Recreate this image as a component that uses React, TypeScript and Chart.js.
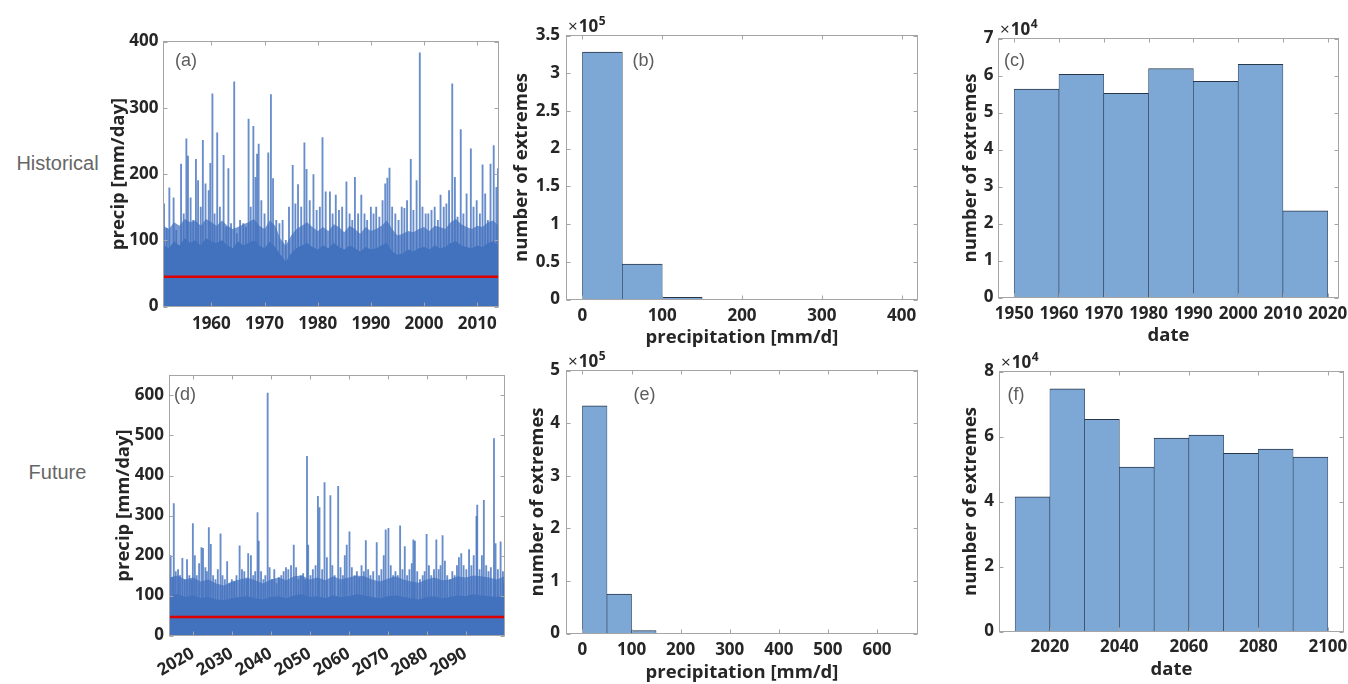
import React, { useEffect, useRef } from "react";
import { Chart, registerables } from "chart.js";

Chart.register(...registerables);

// ------------------------------------------------------------------
// DATA
// ------------------------------------------------------------------
const histThreshold = 45;
const futThreshold = 46;

// (a) historical daily precipitation: dense band (yearly) + visible spikes
const histBandYears = [
  1951, 1952, 1953, 1954, 1955, 1956, 1957, 1958, 1959, 1960,
  1961, 1962, 1963, 1964, 1965, 1966, 1967, 1968, 1969, 1970,
  1971, 1972, 1973, 1974, 1975, 1976, 1977, 1978, 1979, 1980,
  1981, 1982, 1983, 1984, 1985, 1986, 1987, 1988, 1989, 1990,
  1991, 1992, 1993, 1994, 1995, 1996, 1997, 1998, 1999, 2000,
  2001, 2002, 2003, 2004, 2005, 2006, 2007, 2008, 2009, 2010,
  2011, 2012, 2013, 2014,
];
const histBandCore = [
  93, 88, 98, 92, 103, 96, 100, 92, 103, 98,
  96, 100, 92, 88, 98, 92, 96, 100, 92, 88,
  98, 90, 78, 68, 80, 88, 92, 96, 90, 86,
  92, 88, 96, 90, 86, 92, 88, 83, 90, 86,
  88, 92, 96, 83, 78, 80, 86, 83, 88, 90,
  86, 92, 88, 90, 96, 98, 92, 90, 88, 92,
  90, 96, 98, 92,
];
const histBandOuter = [
  122, 117, 127, 122, 132, 127, 130, 122, 132, 127,
  122, 130, 122, 117, 120, 124, 127, 132, 122, 117,
  130, 122, 102, 92, 107, 117, 122, 127, 120, 114,
  120, 114, 124, 120, 112, 122, 117, 110, 120, 114,
  117, 122, 130, 117, 107, 110, 114, 112, 117, 120,
  114, 122, 120, 117, 127, 132, 124, 120, 117, 122,
  120, 127, 130, 122,
];
const histSpikeYears = [
  1951.1, 1951.6, 1952.1, 1952.9, 1953.4, 1954.3, 1954.8, 1955.3, 1955.6, 1956.1,
  1956.6, 1957.1, 1957.5, 1958.0, 1958.4, 1958.9, 1959.5, 1959.8, 1960.2, 1960.6,
  1961.1, 1961.6, 1962.3, 1962.8, 1963.2, 1963.7, 1964.3, 1964.8, 1965.4, 1966.0,
  1966.5, 1967.0, 1967.4, 1967.9, 1968.3, 1968.6, 1968.9, 1969.4, 1970.0, 1970.7,
  1971.2, 1971.6, 1972.2, 1972.8, 1973.4, 1974.0, 1974.6, 1975.3, 1975.8, 1976.3,
  1976.9, 1977.5, 1977.9, 1978.5, 1979.2, 1979.8, 1980.4, 1980.9, 1981.5, 1982.3,
  1982.8, 1983.4, 1984.0, 1984.6, 1985.4, 1986.0, 1986.5, 1987.0, 1987.6, 1988.2,
  1988.8, 1989.3, 1990.0, 1990.5, 1991.0, 1991.6, 1992.2, 1992.7, 1993.1, 1993.5,
  1994.0, 1994.6, 1995.2, 1995.8, 1996.3, 1996.8, 1997.5, 1998.0, 1998.6, 1999.2,
  1999.7, 2000.3, 2000.8, 2001.4, 2002.0, 2002.6, 2003.1, 2003.7, 2004.2, 2004.7,
  2005.3, 2005.8, 2006.3, 2006.9, 2007.4, 2008.0, 2008.8, 2009.3, 2009.9, 2010.5,
  2011.0, 2011.5, 2012.0, 2012.5, 2013.1, 2013.6, 2013.9,
];
const histSpikeValues = [
  155, 118, 179, 164, 115, 215, 140, 253, 227, 164,
  130, 222, 190, 150, 251, 185, 175, 216, 321, 140,
  262, 150, 228, 120, 208, 125, 339, 110, 130, 125,
  120, 283, 150, 272, 195, 230, 245, 160, 140, 232,
  320, 193, 130, 125, 130, 100, 150, 213, 155, 184,
  150, 247, 207, 160, 199, 145, 150, 255, 173, 173,
  140, 168, 145, 150, 188, 140, 130, 195, 140, 168,
  140, 130, 150, 140, 150, 135, 160, 185, 194, 209,
  150, 140, 130, 150, 148, 160, 222, 145, 190, 383,
  150, 140, 140, 145, 150, 130, 168, 150, 155, 175,
  336, 195, 135, 267, 140, 170, 238, 150, 160, 140,
  214, 170, 130, 215, 243, 180, 208,
];

// (d) future daily precipitation
const futBandYears = [
  2014, 2016, 2018, 2020, 2022, 2024, 2026, 2028, 2030, 2032,
  2034, 2036, 2038, 2040, 2042, 2044, 2046, 2048, 2050, 2052,
  2054, 2056, 2058, 2060, 2062, 2064, 2066, 2068, 2070, 2072,
  2074, 2076, 2078, 2080, 2082, 2084, 2086, 2088, 2090, 2092,
  2094, 2096, 2098, 2100,
];
const futBandCore = [
  98, 103, 96, 100, 93, 96, 90, 88, 93, 96,
  98, 93, 90, 96, 98, 93, 100, 103, 96, 98,
  93, 100, 96, 98, 103, 100, 96, 93, 98, 100,
  96, 93, 90, 96, 98, 93, 96, 100, 98, 103,
  100, 98, 96, 100,
];
const futBandOuter = [
  145, 150, 140, 145, 135, 140, 130, 125, 135, 140,
  145, 138, 130, 140, 145, 138, 148, 150, 140, 145,
  138, 148, 140, 145, 150, 148, 140, 135, 142, 148,
  140, 135, 132, 140, 145, 138, 140, 148, 145, 150,
  148, 145, 140, 148,
];
const futSpikeYears = [
  2014.3, 2014.8, 2015.1, 2015.6, 2016.2, 2016.7, 2017.3, 2017.9, 2018.5, 2019.1,
  2019.6, 2020.0, 2020.5, 2021.0, 2021.6, 2022.2, 2022.6, 2023.2, 2023.6, 2024.1,
  2024.6, 2025.2, 2025.8, 2026.4, 2027.1, 2027.6, 2028.2, 2028.8, 2029.4, 2030.0,
  2030.6, 2031.2, 2032.0, 2032.6, 2033.2, 2033.8, 2034.2, 2034.9, 2035.5, 2036.0,
  2036.6, 2036.9, 2037.5, 2038.1, 2038.6, 2039.2, 2039.7, 2040.3, 2040.9, 2041.5,
  2042.1, 2042.7, 2043.3, 2043.9, 2044.5, 2045.2, 2045.9, 2046.5, 2047.1, 2047.7,
  2048.3, 2048.8, 2049.3, 2049.6, 2050.2, 2050.8, 2051.5, 2052.1, 2052.5, 2053.2,
  2053.8, 2054.4, 2055.3, 2055.8, 2056.4, 2057.3, 2057.9, 2058.5, 2059.0, 2059.5,
  2060.2, 2060.8, 2061.5, 2062.1, 2062.7, 2063.3, 2063.9, 2064.4, 2065.0, 2065.6,
  2066.3, 2067.2, 2067.8, 2068.4, 2069.0, 2069.5, 2070.2, 2070.8, 2071.4, 2072.0,
  2072.6, 2073.2, 2073.8, 2074.4, 2075.0, 2075.6, 2076.2, 2076.6, 2077.0, 2077.6,
  2078.3, 2079.0, 2079.5, 2080.0, 2080.6, 2081.2, 2081.9, 2082.5, 2083.1, 2083.6,
  2084.1, 2084.7, 2085.3, 2086.0, 2086.6, 2087.2, 2087.8, 2088.3, 2088.9, 2089.5,
  2090.2, 2090.9, 2091.5, 2092.1, 2092.8, 2093.0, 2093.6, 2094.2, 2094.7, 2095.3,
  2095.9, 2096.5, 2097.3, 2097.7, 2098.3, 2099.0, 2099.6, 2099.9,
];
const futSpikeValues = [
  200, 145, 330, 160, 165, 150, 193, 140, 190, 150,
  140, 280, 200, 150, 180, 220, 218, 170, 160, 270,
  228, 150, 140, 165, 254, 150, 140, 185, 130, 140,
  135, 150, 224, 165, 160, 140, 205, 200, 150, 160,
  307, 236, 160, 140, 150, 606, 170, 140, 165, 130,
  145, 150, 160, 170, 165, 175, 226, 170, 140, 150,
  155, 140, 448, 226, 150, 165, 175, 348, 320, 165,
  382, 195, 350, 175, 150, 373, 170, 150, 200, 226,
  259, 170, 150, 160, 145, 175, 160, 237, 165, 150,
  160, 232, 150, 165, 200, 264, 268, 175, 150, 160,
  150, 274, 165, 222, 150, 165, 180, 239, 236, 160,
  140, 150, 160, 253, 175, 150, 165, 239, 165, 175,
  250, 186, 150, 140, 160, 150, 175, 195, 205, 175,
  165, 215, 175, 200, 298, 326, 165, 200, 338, 175,
  160, 170, 492, 230, 165, 234, 160, 130,
];

// (b) histogram of historical extremes by precipitation
const histPrecipBinCenters = [25, 75, 125, 175, 225, 275, 325, 375];
const histPrecipCounts = [328000, 47000, 2900, 0, 0, 0, 0, 350];
// (e) histogram of future extremes by precipitation
const futPrecipBinCenters = [25, 75, 125, 175, 225, 275, 325, 375, 425, 475, 525, 575, 625];
const futPrecipCounts = [433000, 75000, 5700, 300, 0, 0, 0, 0, 0, 150, 150, 150, 150];
// (c) extremes per decade, historical
const histDecadeCenters = [1955, 1965, 1975, 1985, 1995, 2005, 2015];
const histDecadeCounts = [56300, 60300, 55200, 61900, 58400, 63000, 23400];
// (f) extremes per decade, future
const futDecadeCenters = [2015, 2025, 2035, 2045, 2055, 2065, 2075, 2085, 2095];
const futDecadeCounts = [41400, 74700, 65300, 50600, 59500, 60400, 54800, 56100, 53700];

// tick values
const histYearTicks = [1960, 1970, 1980, 1990, 2000, 2010];
const histPrecipTicks = [0, 100, 200, 300, 400];
const futYearTicks = [2020, 2030, 2040, 2050, 2060, 2070, 2080, 2090];
const futPrecipTicks = [0, 100, 200, 300, 400, 500, 600];
const binTicksB = [0, 100, 200, 300, 400];
const countTicksB = [0, 50000, 100000, 150000, 200000, 250000, 300000, 350000];
const decadeTicksC = [1950, 1960, 1970, 1980, 1990, 2000, 2010, 2020];
const countTicksC = [0, 10000, 20000, 30000, 40000, 50000, 60000, 70000];
const binTicksE = [0, 100, 200, 300, 400, 500, 600];
const countTicksE = [0, 100000, 200000, 300000, 400000, 500000];
const decadeTicksF = [2020, 2040, 2060, 2080, 2100];
const countTicksF = [0, 20000, 40000, 60000, 80000];

// ------------------------------------------------------------------
// STYLE
// ------------------------------------------------------------------
const FONT_FAMILY = '"Open Sans", "Noto Sans", "DejaVu Sans", sans-serif';
const LABEL_FAMILY = '"Liberation Sans", Arial, sans-serif';
const TICK_SIZE = 17;
const TITLE_SIZE = 18.5;
const TEXT_DARK = "#262626";
const AXIS_GRAY = "#a5a5a5";
const PANEL_LABEL_GRAY = "#5c5c5c";
const SERIES_BLUE = "rgb(66,113,190)";
const SPIKE_BLUE = "rgba(66,113,190,0.8)";
const OUTER_BLUE = "rgba(95,135,202,0.85)";
const THRESH_RED = "rgb(222,0,0)";
const HIST_FILL = "rgb(125,167,213)";
const HIST_EDGE = "rgb(40,54,74)";

const PAD = { l: 80, t: 32, r: 24, b: 60 };

function seriesDatasets(
  bandYears: number[], core: number[], outer: number[],
  spikeYears: number[], spikeVals: number[],
  threshold: number, xMin: number, xMax: number
) {
  return [
    {
      type: "line", data: bandYears.map((x, i) => ({ x, y: outer[i] })),
      fill: "origin", backgroundColor: OUTER_BLUE, borderWidth: 0,
      pointRadius: 0, tension: 0, order: 4,
    },
    {
      type: "bar", data: spikeYears.map((x, i) => ({ x, y: spikeVals[i] })),
      backgroundColor: SPIKE_BLUE, borderWidth: 0, barThickness: 1.2, order: 3,
    },
    {
      type: "line", data: bandYears.map((x, i) => ({ x, y: core[i] })),
      fill: "origin", backgroundColor: SERIES_BLUE, borderWidth: 0,
      pointRadius: 0, tension: 0, order: 2,
    },
    {
      type: "line", data: [{ x: xMin, y: threshold }, { x: xMax, y: threshold }],
      borderColor: THRESH_RED, borderWidth: 2.5, pointRadius: 0, fill: false, order: 0,
    },
  ];
}

function histDatasets(centers: number[], counts: number[]) {
  return [
    {
      type: "bar", data: centers.map((x, i) => ({ x, y: counts[i] })),
      backgroundColor: HIST_FILL, borderColor: HIST_EDGE,
      borderWidth: { top: 1, left: 0.6, right: 0.6, bottom: 0 },
      categoryPercentage: 1, barPercentage: 1, order: 1,
    },
  ];
}

type Spec = {
  id: string;
  area: [number, number, number, number];
  xMin: number; xMax: number; yMin: number; yMax: number;
  xTicks: number[]; yTicks: number[];
  yScaleDiv?: number;
  xRotation?: number;
  xTickPad: number; yTickPad: number;
  xTitle?: string; xTitleRel?: number;
  yTitle: string; yTitleX: number;
  label: string; labelDx: number; labelDy: number;
  exponent?: number;
  datasets: any[];
};

const specs: Spec[] = [
  {
    id: "a", area: [163.5, 41.5, 498.5, 306.5],
    xMin: 1951, xMax: 2014, yMin: 0, yMax: 400,
    xTicks: histYearTicks, yTicks: histPrecipTicks,
    xTickPad: 7, yTickPad: 5,
    yTitle: "precip [mm/day]", yTitleX: 119,
    label: "(a)", labelDx: 11.5, labelDy: 20,
    datasets: seriesDatasets(histBandYears, histBandCore, histBandOuter,
      histSpikeYears, histSpikeValues, histThreshold, 1951, 2014),
  },
  {
    id: "b", area: [566.5, 35.5, 917.5, 299.5],
    xMin: -20, xMax: 420, yMin: 0, yMax: 350000,
    xTicks: binTicksB, yTicks: countTicksB, yScaleDiv: 1e5,
    xTickPad: 6, yTickPad: 6.5,
    xTitle: "precipitation [mm/d]", xTitleRel: 38.5,
    yTitle: "number of extremes", yTitleX: 522,
    label: "(b)", labelDx: 66, labelDy: 26, exponent: 5,
    datasets: histDatasets(histPrecipBinCenters, histPrecipCounts),
  },
  {
    id: "c", area: [998.5, 38.5, 1338.5, 297.5],
    xMin: 1946.5, xMax: 2022.4, yMin: 0, yMax: 70000,
    xTicks: decadeTicksC, yTicks: countTicksC, yScaleDiv: 1e4,
    xTickPad: 6, yTickPad: 5,
    xTitle: "date", xTitleRel: 38,
    yTitle: "number of extremes", yTitleX: 971,
    label: "(c)", labelDx: 5.5, labelDy: 23, exponent: 4,
    datasets: histDatasets(histDecadeCenters, histDecadeCounts),
  },
  {
    id: "d", area: [169.5, 375.5, 504.5, 635.5],
    xMin: 2014, xMax: 2100, yMin: 0, yMax: 650,
    xTicks: futYearTicks, yTicks: futPrecipTicks, xRotation: 30,
    xTickPad: 8, yTickPad: 5.5,
    yTitle: "precip [mm/day]", yTitleX: 124,
    label: "(d)", labelDx: 4.5, labelDy: 19.5,
    datasets: seriesDatasets(futBandYears, futBandCore, futBandOuter,
      futSpikeYears, futSpikeValues, futThreshold, 2014, 2100),
  },
  {
    id: "e", area: [566.5, 370.5, 917.5, 633.5],
    xMin: -32.5, xMax: 682.5, yMin: 0, yMax: 500000,
    xTicks: binTicksE, yTicks: countTicksE, yScaleDiv: 1e5,
    xTickPad: 6.5, yTickPad: 6.5,
    xTitle: "precipitation [mm/d]", xTitleRel: 39,
    yTitle: "number of extremes", yTitleX: 538,
    label: "(e)", labelDx: 67, labelDy: 24.5, exponent: 5,
    datasets: histDatasets(futPrecipBinCenters, futPrecipCounts),
  },
  {
    id: "f", area: [999.5, 371.5, 1343.5, 631.5],
    xMin: 2005.5, xMax: 2104.5, yMin: 0, yMax: 80000,
    xTicks: decadeTicksF, yTicks: countTicksF, yScaleDiv: 1e4,
    xTickPad: 5.5, yTickPad: 5.5,
    xTitle: "date", xTitleRel: 38,
    yTitle: "number of extremes", yTitleX: 971,
    label: "(f)", labelDx: 8, labelDy: 23.5, exponent: 4,
    datasets: histDatasets(futDecadeCenters, futDecadeCounts),
  },
];

function geometry(spec: Spec) {
  const [L, T, R, B] = spec.area;
  const cl = Math.floor(L - PAD.l);
  const ct = Math.floor(T - PAD.t);
  const w = Math.ceil(R + PAD.r - cl);
  const h = Math.ceil(B + PAD.b - ct);
  return { cl, ct, w, h, padL: L - cl, padT: T - ct, padR: cl + w - R, padB: ct + h - B };
}

const decoPlugin = {
  id: "deco",
  afterDraw(chart: any, _args: any, o: any) {
    const { ctx, chartArea } = chart;
    const { left, top, right, bottom } = chartArea;
    const xs = chart.scales.x;
    const ys = chart.scales.y;
    ctx.save();
    ctx.strokeStyle = AXIS_GRAY;
    ctx.lineWidth = 1;
    ctx.strokeRect(left, top, right - left, bottom - top);
    ctx.beginPath();
    const tl = 4;
    for (const t of xs.ticks) {
      const px = Math.round(xs.getPixelForValue(t.value)) + 0.5;
      ctx.moveTo(px, bottom); ctx.lineTo(px, bottom - tl);
      ctx.moveTo(px, top); ctx.lineTo(px, top + tl);
    }
    for (const t of ys.ticks) {
      const py = Math.round(ys.getPixelForValue(t.value)) + 0.5;
      ctx.moveTo(left, py); ctx.lineTo(left + tl, py);
      ctx.moveTo(right, py); ctx.lineTo(right - tl, py);
    }
    ctx.stroke();

    ctx.fillStyle = PANEL_LABEL_GRAY;
    ctx.font = `18px ${LABEL_FAMILY}`;
    ctx.textAlign = "left";
    ctx.textBaseline = "middle";
    ctx.fillText(o.label, left + o.labelDx, top + o.labelDy);

    if (o.exponent != null) {
      const bx = left + 1.5;
      const by = top - 4;
      ctx.fillStyle = TEXT_DARK;
      ctx.textBaseline = "alphabetic";
      ctx.font = `17px ${FONT_FAMILY}`;
      ctx.fillText("\u00d7", bx, by);
      const w1 = ctx.measureText("\u00d7").width;
      ctx.font = `bold 17px ${FONT_FAMILY}`;
      ctx.fillText("10", bx + w1 + 1, by);
      const w2 = ctx.measureText("10").width;
      ctx.font = `bold 12px ${FONT_FAMILY}`;
      ctx.fillText(String(o.exponent), bx + w1 + w2 + 1.5, by - 7);
    }
    ctx.restore();
  },
};

function buildConfig(spec: Spec, g: ReturnType<typeof geometry>): any {
  const tickFont = { family: FONT_FAMILY, size: TICK_SIZE, weight: "bold" as const };
  const titleFont = { family: FONT_FAMILY, size: TITLE_SIZE, weight: "bold" as const };
  const titleLH = TITLE_SIZE * 1.2;
  const rot = spec.xRotation ?? 0;
  return {
    type: "bar",
    data: { datasets: spec.datasets },
    plugins: [decoPlugin],
    options: {
      responsive: false,
      animation: false,
      devicePixelRatio: 1,
      events: [],
      layout: { padding: { left: 0, top: g.padT, right: g.padR, bottom: 0 } },
      plugins: {
        legend: { display: false },
        tooltip: { enabled: false },
        deco: { label: spec.label, labelDx: spec.labelDx, labelDy: spec.labelDy, exponent: spec.exponent },
      },
      scales: {
        x: {
          type: "linear",
          min: spec.xMin, max: spec.xMax, offset: false,
          grid: { display: false, drawTicks: false }, border: { display: false },
          ticks: {
            autoSkip: false, maxRotation: rot, minRotation: rot,
            padding: spec.xTickPad, color: TEXT_DARK, font: tickFont,
            callback: (v: number) => String(v),
          },
          afterBuildTicks: (s: any) => { s.ticks = spec.xTicks.map((v) => ({ value: v })); },
          afterFit: (s: any) => { s.height = g.padB; },
          title: spec.xTitle
            ? {
                display: true, text: spec.xTitle, color: TEXT_DARK, font: titleFont,
                padding: { top: 0, bottom: g.padB - (spec.xTitleRel ?? 38) - titleLH / 2 },
              }
            : { display: false },
        },
        y: {
          type: "linear",
          min: spec.yMin, max: spec.yMax,
          grid: { display: false, drawTicks: false }, border: { display: false },
          ticks: {
            padding: spec.yTickPad, color: TEXT_DARK, font: tickFont,
            callback: (v: number) => String(spec.yScaleDiv ? v / spec.yScaleDiv : v),
          },
          afterBuildTicks: (s: any) => { s.ticks = spec.yTicks.map((v) => ({ value: v })); },
          afterFit: (s: any) => { s.width = g.padL; },
          title: {
            display: true, text: spec.yTitle, color: TEXT_DARK, font: titleFont,
            padding: { top: spec.yTitleX - g.cl - titleLH / 2, bottom: 0 },
          },
        },
      },
    },
  };
}

function Panel({ spec }: { spec: Spec }) {
  const ref = useRef<HTMLCanvasElement>(null);
  const g = geometry(spec);
  useEffect(() => {
    const chart = new Chart(ref.current as HTMLCanvasElement, buildConfig(spec, g));
    return () => chart.destroy();
  }, []);
  return (
    <canvas
      ref={ref}
      width={g.w}
      height={g.h}
      style={{ position: "absolute", left: g.cl, top: g.ct, width: g.w, height: g.h }}
    />
  );
}

const rowLabelStyle: React.CSSProperties = {
  position: "absolute", left: 0, width: 115, textAlign: "center",
  fontFamily: LABEL_FAMILY, fontSize: 20, color: "#666666", lineHeight: "24px",
};

export default function App() {
  return (
    <div style={{ position: "fixed", left: 0, top: 0, width: 1348, height: 684, overflow: "hidden", background: "#ffffff" }}>
      <div style={{ ...rowLabelStyle, top: 151 }}>Historical</div>
      <div style={{ ...rowLabelStyle, top: 460 }}>Future</div>
      {specs.map((s) => (
        <Panel key={s.id} spec={s} />
      ))}
    </div>
  );
}
